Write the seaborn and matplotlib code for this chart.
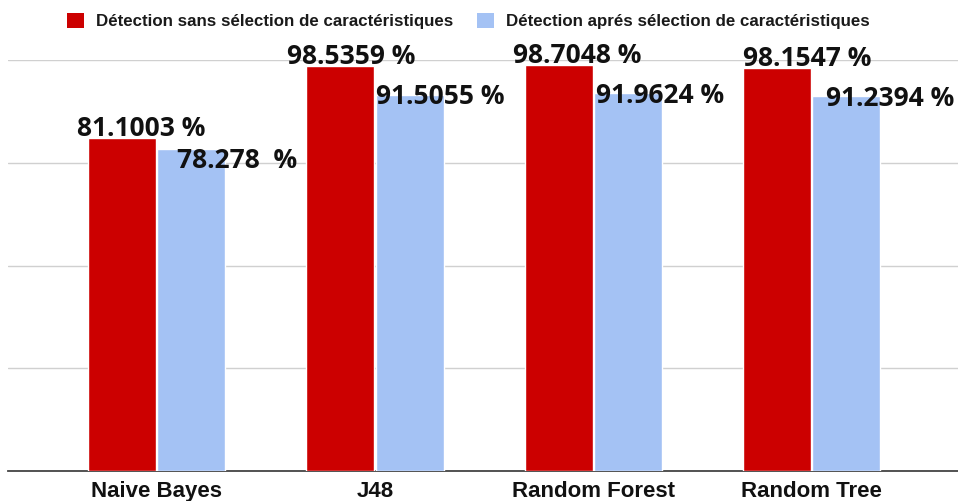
import matplotlib
matplotlib.use("Agg")
import matplotlib.pyplot as plt
from matplotlib.patches import Patch
import seaborn as sns
import pandas as pd

# Accuracy (%) of each classifier, before and after feature selection
classifiers = ["Naive Bayes", "J48", "Random Forest", "Random Tree"]
series_names = ["Détection sans sélection de caractéristiques",
                "Détection aprés sélection de caractéristiques"]
acc_without = [81.1003, 98.5359, 98.7048, 98.1547]
acc_with = [78.278, 91.5055, 91.9624, 91.2394]
labels_without = ["81.1003 %", "98.5359 %", "98.7048 %", "98.1547 %"]
labels_with = ["78.278  %", "91.5055 %", "91.9624 %", "91.2394 %"]

colors = ["#CC0000", "#A4C2F4"]

df = pd.DataFrame({
    "classifier": classifiers * 2,
    "series": [series_names[0]] * 4 + [series_names[1]] * 4,
    "accuracy": acc_without + acc_with,
})

sns.set_style("white")
fig = plt.figure(figsize=(9.58, 5.01), dpi=100)
ax = fig.add_axes([8 / 958, 30 / 501, 950 / 958, 411 / 501])

sns.barplot(data=df, x="classifier", y="accuracy", hue="series",
            order=classifiers, hue_order=series_names, palette=colors,
            width=0.636, gap=0.022, saturation=1, errorbar=None,
            legend=False, ax=ax, zorder=3)

ax.set_ylim(0, 100)
ax.set_xlim(-0.68, 3.67)
ax.set_yticks([0, 25, 50, 75, 100])
ax.set_yticklabels([])
ax.tick_params(axis="y", length=0)
ax.tick_params(axis="x", length=0, pad=7)
ax.yaxis.grid(True, color="#d0d0d0", linewidth=1)
ax.set_axisbelow(True)
for side in ["top", "right", "left"]:
    ax.spines[side].set_visible(False)
ax.spines["bottom"].set_color("#444444")
ax.spines["bottom"].set_linewidth(1.3)
ax.set_xlabel("")
ax.set_ylabel("")
for lab in ax.get_xticklabels():
    lab.set_fontfamily("Liberation Sans")
    lab.set_fontweight("bold")
    lab.set_fontsize(16)
    lab.set_color("#111111")

# Value labels: shift (points) from the bar's top-left corner
shift_without = [-8, -14, -8, 0]
shift_with = [14, 0, 1.5, 10]
lift_with = [-8, -1.5, -1.5, -1.5]
font_lbl = dict(family="Open Sans", weight="bold", size=19, color="#111111")
bars_without = ax.containers[0]
bars_with = ax.containers[1]
for bar, txt, dx in zip(bars_without, labels_without, shift_without):
    ax.annotate(txt, (bar.get_x(), bar.get_height()),
                xytext=(dx, -3), textcoords="offset points",
                ha="left", va="bottom", clip_on=False, zorder=5, **font_lbl)
for bar, txt, dx, dy in zip(bars_with, labels_with, shift_with, lift_with):
    ax.annotate(txt, (bar.get_x(), bar.get_height()),
                xytext=(dx, dy), textcoords="offset points",
                ha="left", va="center", clip_on=False, zorder=5, **font_lbl)

handles = [Patch(facecolor=c, edgecolor="none") for c in colors]
fig.legend(handles, series_names, loc="center", bbox_to_anchor=(0.489, 0.958),
           ncol=2, frameon=False, handlelength=1.0, handleheight=1.0,
           handletextpad=0.7, columnspacing=1.4,
           prop=dict(family="Liberation Sans", weight="bold", size=12.2))
for t in fig.legends[0].get_texts():
    t.set_color("#1a1a1a")

fig.savefig("out.png", dpi=100)
